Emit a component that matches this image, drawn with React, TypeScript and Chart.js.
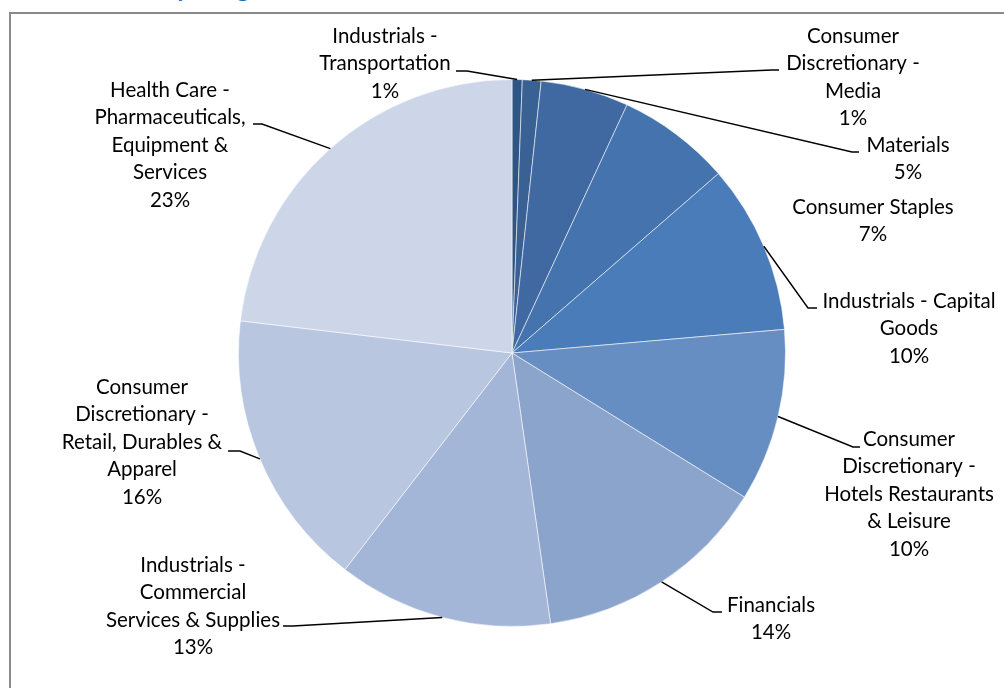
import React, { useEffect, useRef } from "react";
import { Chart, registerables } from "chart.js";

Chart.register(...registerables);

const categories = [
  "Industrials -\nTransportation",
  "Consumer\nDiscretionary -\nMedia",
  "Materials",
  "Consumer Staples",
  "Industrials - Capital\nGoods",
  "Consumer\nDiscretionary -\nHotels Restaurants\n& Leisure",
  "Financials",
  "Industrials -\nCommercial\nServices & Supplies",
  "Consumer\nDiscretionary -\nRetail, Durables &\nApparel",
  "Health Care -\nPharmaceuticals,\nEquipment &\nServices",
];

const weights = [0.6, 1.1, 5.2, 6.7, 10.0, 10.2, 13.9, 12.7, 16.4, 23.1];

const sliceColors = [
  "#2f5584",
  "#3a6194",
  "#3f69a0",
  "#4473ad",
  "#4a7cb9",
  "#668ec2",
  "#8ba4cc",
  "#a3b6d7",
  "#b9c6df",
  "#ccd6e8",
];

const titleText = "Industry Weights";

// label placement (text centre x, first line y) and leader elbow / tick end
const labelAnchors: [number, number][] = [
  [385, 36],
  [853, 36],
  [908, 145],
  [873, 207],
  [909, 301],
  [909, 439],
  [771, 605],
  [193, 565],
  [142, 387],
  [170, 90],
];

const leaderElbows: ([number, number, number] | null)[] = [
  [467, 71, 456],
  [772, 70, 779],
  [852, 152, 859],
  null,
  [808, 308, 817],
  [853, 447, 860],
  [713, 612, 722],
  [293, 626, 283],
  [240, 451, 228],
  [262, 124, 253],
];

const FONT = "20.5px Lato, 'Open Sans', sans-serif";
const LINE_H = 27.5;

const labelPlugin = {
  id: "pieLabels",
  afterDraw(chart: any) {
    const ctx = chart.ctx;
    const meta = chart.getDatasetMeta(0);
    const total = weights.reduce((a, b) => a + b, 0);
    ctx.save();
    meta.data.forEach((arc: any, i: number) => {
      const p = arc.getProps(["x", "y", "startAngle", "endAngle", "outerRadius"], true);
      const mid = (p.startAngle + p.endAngle) / 2;
      const ax = p.x + Math.cos(mid) * p.outerRadius;
      const ay = p.y + Math.sin(mid) * p.outerRadius;
      const el = leaderElbows[i];
      if (el) {
        ctx.strokeStyle = "#000000";
        ctx.lineWidth = 1.4;
        ctx.beginPath();
        ctx.moveTo(ax, ay);
        ctx.lineTo(el[0], el[1]);
        ctx.lineTo(el[2], el[1]);
        ctx.stroke();
      }
      const pct = Math.round((weights[i] / total) * 100) + "%";
      const lines = categories[i].split("\n").concat([pct]);
      const [cx, cy] = labelAnchors[i];
      ctx.fillStyle = "#000000";
      ctx.font = FONT;
      ctx.textAlign = "center";
      ctx.textBaseline = "middle";
      lines.forEach((ln, k) => {
        ctx.fillText(ln, cx, cy + k * LINE_H);
      });
    });
    ctx.restore();
  },
};

export default function App() {
  const ref = useRef<HTMLCanvasElement>(null);
  useEffect(() => {
    if (!ref.current) return;
    const chart = new Chart(ref.current, {
      type: "pie",
      data: {
        labels: categories.map((c) => c.replace(/\n/g, " ")),
        datasets: [
          {
            data: weights,
            backgroundColor: sliceColors,
            borderColor: "rgba(255,255,255,0.55)",
            borderWidth: 1,
          },
        ],
      },
      options: {
        animation: false,
        responsive: false,
        maintainAspectRatio: false,
        layout: { padding: { left: 238, right: 218, top: 79, bottom: 61 } },
        plugins: {
          legend: { display: false },
          tooltip: { enabled: false },
          title: { display: false },
        },
      },
      plugins: [labelPlugin],
    });
    return () => chart.destroy();
  }, []);

  return (
    <div style={{ position: "fixed", left: 0, top: 0, width: 1004, height: 688, background: "#fff", overflow: "hidden" }}>
      <div
        style={{
          position: "absolute",
          left: 0,
          top: 0,
          width: 500,
          height: 4,
          overflow: "hidden",
        }}
      >
        <span
          style={{
            position: "absolute",
            left: 100,
            top: -24,
            fontFamily: "Lato, sans-serif",
            fontWeight: 700,
            fontSize: 24,
            lineHeight: "24px",
            color: "#1f6fb6",
            whiteSpace: "nowrap",
          }}
        >
          {titleText}
        </span>
      </div>
      <div
        style={{
          position: "absolute",
          left: 9,
          top: 12,
          width: 1004,
          height: 688,
          borderTop: "2px solid #8a8a8a",
          borderLeft: "2px solid #8a8a8a",
        }}
      />
      <canvas ref={ref} width={1004} height={688} style={{ position: "absolute", left: 0, top: 0, width: 1004, height: 688 }} />
    </div>
  );
}
